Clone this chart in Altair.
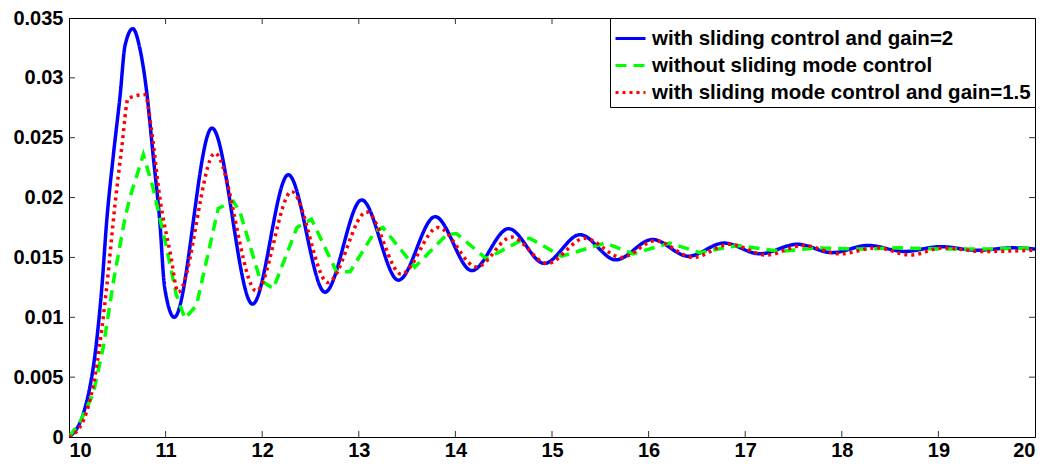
import altair as alt
import pandas as pd

# ---- data ----
blue_x = [10.00, 10.15, 10.29, 10.34, 10.39, 10.46, 10.53, 10.58, 10.66, 10.735, 10.80, 10.87,
          10.94, 10.99, 11.09, 11.48, 11.90, 12.27, 12.65, 13.03, 13.41, 13.79, 14.17, 14.55,
          14.92, 15.29, 15.66, 16.04, 16.41, 16.78, 17.15, 17.54, 17.90, 18.27, 18.65, 19.02,
          19.40, 19.77, 20.00]
blue_y = [0.0000, 0.0020, 0.0083, 0.0125, 0.0180, 0.0236, 0.0286, 0.0327, 0.0341, 0.0324, 0.0291, 0.0236,
          0.0180, 0.0125, 0.0100, 0.0258, 0.0111, 0.0219, 0.0121, 0.0198, 0.0131, 0.0184, 0.0139, 0.0174,
          0.0145, 0.0169, 0.0148, 0.0165, 0.0151, 0.0162, 0.0153, 0.0161, 0.0154, 0.0160, 0.0155, 0.0159,
          0.0156, 0.0158, 0.0157]

green_x = [10.00, 10.11, 10.25, 10.355, 10.46, 10.58, 10.63, 10.77, 10.87, 11.01, 11.11, 11.20,
           11.32, 11.545, 11.70, 11.77, 11.98, 12.115, 12.36, 12.51, 12.77, 12.91, 13.17, 13.25,
           13.58, 13.91, 14.01, 14.32, 14.70, 14.77, 15.10, 15.55, 15.84, 16.22, 16.53, 16.92,
           17.36, 17.75, 18.20, 18.60, 19.00, 19.50, 20.00]
green_y = [0.0000, 0.0012, 0.0036, 0.0075, 0.0130, 0.0183, 0.0200, 0.0236, 0.0208, 0.0158, 0.0119, 0.0099,
           0.0110, 0.0191, 0.0197, 0.0188, 0.0131, 0.0124, 0.0175, 0.0182, 0.0138, 0.0138, 0.0172, 0.0175,
           0.0142, 0.0169, 0.0170, 0.0149, 0.0165, 0.0166, 0.0151, 0.0162, 0.0153, 0.0162, 0.0154, 0.0160,
           0.0155, 0.0158, 0.0157, 0.0158, 0.0157, 0.0157, 0.0158]

red_x = [10.00, 10.15, 10.29, 10.39, 10.476, 10.545, 10.614, 10.787, 10.856, 10.94, 11.05, 11.13,
         11.51, 11.94, 12.305, 12.68, 13.08, 13.44, 13.82, 14.22, 14.58, 14.95, 15.34, 15.72,
         16.07, 16.46, 16.84, 17.22, 17.60, 17.98, 18.36, 18.71, 19.05, 19.46, 20.00]
red_y = [0.0000, 0.0014, 0.0061, 0.0125, 0.0194, 0.0241, 0.0283, 0.0286, 0.0255, 0.0200, 0.0153, 0.0121,
         0.0237, 0.0122, 0.0205, 0.0129, 0.0188, 0.0136, 0.0175, 0.0142, 0.0167, 0.0145, 0.0166, 0.0150,
         0.0164, 0.0150, 0.0161, 0.0152, 0.0160, 0.0153, 0.0158, 0.0152, 0.0158, 0.0155, 0.0156]

series_names = ["with sliding control and gain=2",
                "without sliding mode control",
                "with sliding mode control and gain=1.5"]
series_colors = ["#0000FF", "#00FF00", "#FF0000"]
series_dashes = [[1, 0], [11, 7], [3, 4]]

x_ticks = [10, 11, 12, 13, 14, 15, 16, 17, 18, 19, 20]
y_ticks = [0, 0.005, 0.01, 0.015, 0.02, 0.025, 0.03, 0.035]

# ---- build tables ----
frames = []
for name, xs, ys in zip(series_names, [blue_x, green_x, red_x], [blue_y, green_y, red_y]):
    frames.append(pd.DataFrame({"x": xs, "y": ys, "series": name}))
df = pd.concat(frames, ignore_index=True)

FONT = "Liberation Sans"
W, H = 966, 419
xscale = alt.Scale(domain=[10, 20], nice=False, zero=False)
yscale = alt.Scale(domain=[0, 0.035], nice=False)

color = alt.Color("series:N", title=None,
                  scale=alt.Scale(domain=series_names, range=series_colors),
                  legend=alt.Legend(orient="top-right", offset=0, symbolType="stroke",
                                    symbolSize=900, symbolStrokeWidth=3,
                                    labelFont=FONT, labelFontSize=20.5, labelFontWeight="bold",
                                    labelColor="black", labelLimit=600,
                                    fillColor="white", strokeColor="black", padding=4,
                                    rowPadding=0, labelOffset=5, cornerRadius=0))
dash = alt.StrokeDash("series:N", scale=alt.Scale(domain=series_names, range=series_dashes),
                      legend=None)

def line_layer(i, interp):
    return alt.Chart(df).transform_filter(
        alt.datum.series == series_names[i]
    ).mark_line(strokeWidth=3.5, interpolate=interp, clip=True, strokeCap="butt").encode(
        x=alt.X("x:Q", scale=xscale,
                axis=alt.Axis(values=x_ticks, title=None, grid=False, ticks=False, format="d",
                              labelFont=FONT, labelFontSize=20, labelFontWeight="bold",
                              labelColor="black", labelPadding=3, domainColor="black")),
        y=alt.Y("y:Q", scale=yscale,
                axis=alt.Axis(values=y_ticks, title=None, grid=False, ticks=False, format=".3~f",
                              labelFont=FONT, labelFontSize=20, labelFontWeight="bold",
                              labelColor="black", labelPadding=6, domainColor="black")),
        color=color,
        strokeDash=dash,
    )

lines = [line_layer(0, "monotone"), line_layer(1, "linear"), line_layer(2, "monotone")]

# inside tick marks (MATLAB box style)
xt = pd.DataFrame({"t": x_ticks[1:-1]})
yt = pd.DataFrame({"t": y_ticks[1:-1]})
tick_style = dict(color="#333333", strokeWidth=1)
bottom_ticks = alt.Chart(xt).mark_rule(**tick_style).encode(
    x=alt.X("t:Q", scale=xscale), y=alt.value(H), y2=alt.value(H - 6))
top_ticks = alt.Chart(xt).mark_rule(**tick_style).encode(
    x=alt.X("t:Q", scale=xscale), y=alt.value(0), y2=alt.value(6))
left_ticks = alt.Chart(yt).mark_rule(**tick_style).encode(
    y=alt.Y("t:Q", scale=yscale), x=alt.value(0), x2=alt.value(6))
right_ticks = alt.Chart(yt).mark_rule(**tick_style).encode(
    y=alt.Y("t:Q", scale=yscale), x=alt.value(W), x2=alt.value(W - 6))

chart = alt.layer(bottom_ticks, top_ticks, left_ticks, right_ticks, *lines).properties(
    width=W, height=H,
    autosize=alt.AutoSizeParams(type="none"),
    padding={"left": 61, "top": 10, "right": 8, "bottom": 23},
    background="white",
).configure_view(stroke="black", strokeWidth=1)

chart.save("out.html", embed_options={"renderer": "svg", "actions": False})
